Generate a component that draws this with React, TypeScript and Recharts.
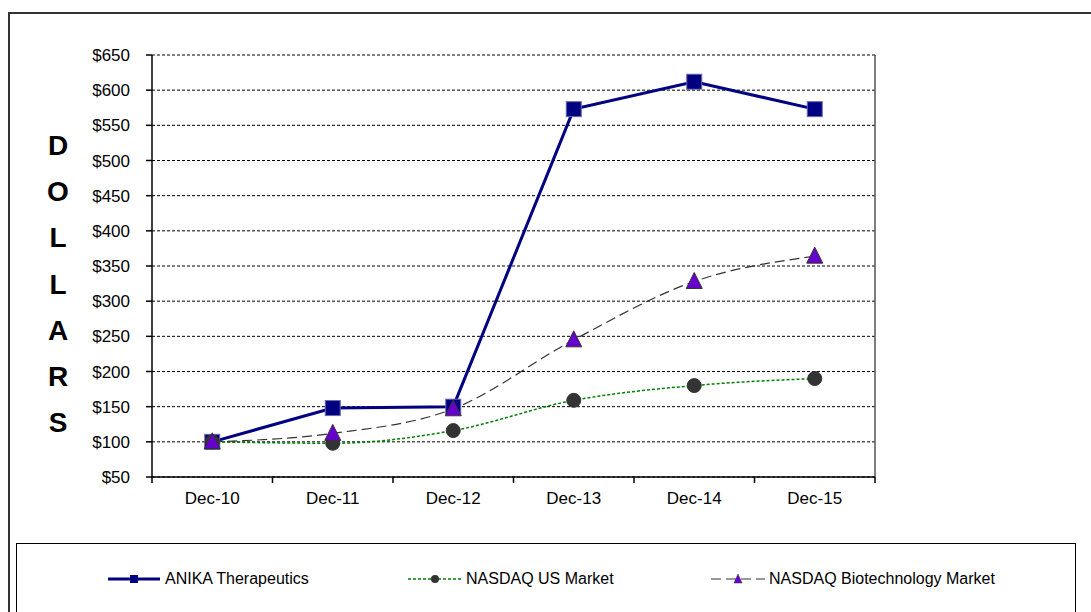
import { LineChart, Line, XAxis, YAxis, CartesianGrid, ReferenceLine } from 'recharts';

const categories = ['Dec-10', 'Dec-11', 'Dec-12', 'Dec-13', 'Dec-14', 'Dec-15'];
const anika = [100, 148, 150, 573, 612, 573];
const nasdaqUs = [100, 98, 116, 159, 180, 190];
const nasdaqBio = [100, 112, 147, 245, 328, 364];
const yTicks = [50, 100, 150, 200, 250, 300, 350, 400, 450, 500, 550, 600, 650];
const yLabel = 'DOLLARS';

const data = categories.map((cat, i) => ({
  x: i + 0.5,
  cat,
  anika: anika[i],
  us: nasdaqUs[i],
  bio: nasdaqBio[i],
}));

const labelTicks = data.map((d) => d.x);
const boundaryTicks = [...categories.map((_, i) => i), categories.length];

const FONT = '"Liberation Sans", Arial, sans-serif';

const SquareDot = (props: any) => {
  const { cx, cy, index } = props;
  if (cx == null || cy == null) return null;
  return <rect key={`sq-${index}`} x={cx - 7.5} y={cy - 7.5} width={15} height={15} fill="#000080" stroke="#6a6ab0" strokeWidth={1} />;
};

const CircleDot = (props: any) => {
  const { cx, cy, index } = props;
  if (cx == null || cy == null) return null;
  return <circle key={`ci-${index}`} cx={cx} cy={cy} r={7} fill="#333333" stroke="#333333" />;
};

const TriangleDot = (props: any) => {
  const { cx, cy, index } = props;
  if (cx == null || cy == null) return null;
  return (
    <polygon
      key={`tr-${index}`}
      points={`${cx},${cy - 9} ${cx + 8},${cy + 7} ${cx - 8},${cy + 7}`}
      fill="#6600cc"
      stroke="#333333"
      strokeWidth={1}
    />
  );
};

const LegendBox = () => (
  <div
    style={{
      position: 'absolute',
      left: 16,
      top: 543,
      width: 1060,
      height: 100,
      border: '1px solid #000',
      boxSizing: 'border-box',
      fontFamily: FONT,
      fontSize: 16,
      color: '#000',
    }}
  >
    <div style={{ position: 'absolute', left: 91, top: 26, display: 'flex', alignItems: 'center' }}>
      <svg width={52} height={18}>
        <line x1={0} y1={9} x2={52} y2={9} stroke="#000080" strokeWidth={3} />
        <rect x={22} y={5} width={8} height={8} fill="#000080" />
      </svg>
      <span style={{ marginLeft: 5 }}>ANIKA Therapeutics</span>
    </div>
    <div style={{ position: 'absolute', left: 391, top: 26, display: 'flex', alignItems: 'center' }}>
      <svg width={55} height={18}>
        <line x1={0} y1={9} x2={55} y2={9} stroke="#008000" strokeWidth={1.5} strokeDasharray="3 2" />
        <circle cx={27} cy={9} r={4} fill="#333333" />
      </svg>
      <span style={{ marginLeft: 3 }}>NASDAQ US Market</span>
    </div>
    <div style={{ position: 'absolute', left: 694, top: 26, display: 'flex', alignItems: 'center' }}>
      <svg width={54} height={18}>
        <line x1={0} y1={9} x2={54} y2={9} stroke="#333333" strokeWidth={1} strokeDasharray="10 5" />
        <polygon points="27,4 31,13 23,13" fill="#6600cc" stroke="#333333" strokeWidth={0.5} />
      </svg>
      <span style={{ marginLeft: 4 }}>NASDAQ Biotechnology Market</span>
    </div>
  </div>
);

export default function App() {
  return (
    <div style={{ position: 'absolute', left: 0, top: 0, width: 1091, height: 612, overflow: 'hidden', background: '#fff' }}>
      <div
        style={{
          position: 'absolute',
          left: 8,
          top: 12,
          width: 1100,
          height: 700,
          border: '2px solid #333',
          boxSizing: 'border-box',
        }}
      />
      <div
        style={{
          position: 'absolute',
          left: 43,
          top: 123,
          width: 30,
          fontFamily: FONT,
          fontWeight: 'bold',
          fontSize: 28,
          lineHeight: '46.2px',
          textAlign: 'center',
          color: '#000',
        }}
      >
        {yLabel.split('').map((ch, i) => (
          <div key={i}>{ch}</div>
        ))}
      </div>
      <div style={{ position: 'absolute', left: 0, top: 0 }}>
        <LineChart width={1091} height={540} data={data} margin={{ top: 55, right: 216, left: 72, bottom: 23 }}>
          <CartesianGrid xAxisId="b" vertical={false} stroke="#000" strokeDasharray="3 2" horizontalValues={yTicks} />
          <XAxis
            xAxisId="a"
            dataKey="x"
            type="number"
            domain={[0, categories.length]}
            ticks={boundaryTicks}
            tickFormatter={() => ''}
            tickSize={6}
            height={7}
            axisLine={{ stroke: '#000', strokeWidth: 1.5 }}
            tickLine={{ stroke: '#000', strokeWidth: 1.5 }}
            interval={0}
          />
          <XAxis
            xAxisId="b"
            dataKey="x"
            type="number"
            domain={[0, categories.length]}
            ticks={labelTicks}
            tickFormatter={(v: number) => categories[Math.floor(v)]}
            axisLine={false}
            tickLine={false}
            tickSize={0}
            tickMargin={8}
            height={33}
            interval={0}
            tick={{ fill: '#000', fontSize: 17, fontFamily: FONT }}
          />
          <YAxis
            domain={[50, 650]}
            ticks={yTicks}
            tickFormatter={(v: number) => `$${v}`}
            width={80}
            tickSize={6}
            tickMargin={16}
            axisLine={{ stroke: '#000', strokeWidth: 1.5 }}
            tickLine={{ stroke: '#000', strokeWidth: 1.5 }}
            tick={{ fill: '#000', fontSize: 17, fontFamily: FONT }}
            interval={0}
          />
          <ReferenceLine xAxisId="b" x={categories.length} stroke="#555" strokeWidth={1.5} />
          <Line
            xAxisId="b"
            type="linear"
            dataKey="anika"
            stroke="#000080"
            strokeWidth={3}
            dot={SquareDot}
            activeDot={false}
            isAnimationActive={false}
          />
          <Line
            xAxisId="b"
            type="monotone"
            dataKey="us"
            stroke="#008000"
            strokeWidth={1.5}
            strokeDasharray="3 2"
            dot={CircleDot}
            activeDot={false}
            isAnimationActive={false}
          />
          <Line
            xAxisId="b"
            type="monotone"
            dataKey="bio"
            stroke="#333333"
            strokeWidth={1.2}
            strokeDasharray="10 5"
            dot={TriangleDot}
            activeDot={false}
            isAnimationActive={false}
          />
        </LineChart>
      </div>
      <LegendBox />
    </div>
  );
}
